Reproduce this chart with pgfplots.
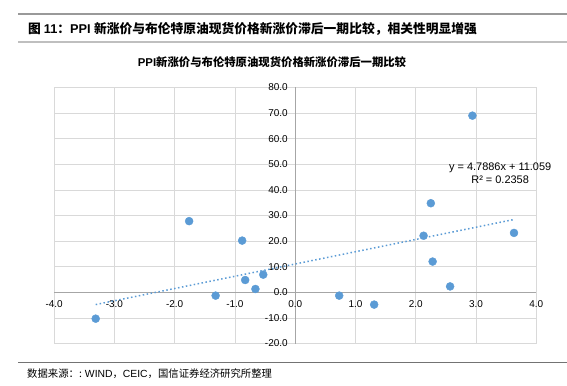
\documentclass[border=0pt]{standalone}
\usepackage{pgfplots}
\pgfplotsset{compat=1.18}
\usepackage{fontspec}
\setmainfont{Liberation Sans}
\newfontfamily\cjk{Noto Sans CJK SC}
\definecolor{ptblue}{HTML}{5B9BD5}
\begin{document}
\begin{tikzpicture}[x=1bp,y=1bp]
\path[use as bounding box] (0,0) rectangle (567,385);
\draw[black!40, line width=1.5bp] (18,371) -- (567,371);
\node[anchor=west, inner sep=0] at (28,356) {\fontsize{12.8}{14}\selectfont\bfseries{\cjk 图 }11{\cjk ：}PPI {\cjk 新涨价与布伦特原油现货价格新涨价滞后一期比较，相关性明显增强}};
\draw[black!25, line width=1.5bp] (18,343) -- (567,343);
\node[inner sep=0] at (272,323) {\fontsize{11.4}{13}\selectfont\bfseries PPI{\cjk 新涨价与布伦特原油现货价格新涨价滞后一期比较}};
\begin{axis}[
  at={(54.1bp,41.5bp)}, anchor=south west,
  scale only axis, width=482.2bp, height=256bp,
  xmin=-4, xmax=4, ymin=-20, ymax=80,
  xtick={-4,-3,...,4}, ytick={-20,-10,...,80},
  axis lines=middle,
  axis line style={-, draw=black!35, line width=0.8bp},
  grid=major,
  grid style={draw=black!15, line width=0.8bp},
  major tick length=0pt,
  hide obscured x ticks=false, hide obscured y ticks=false,
  ticklabel style={font=\fontsize{10}{11}\selectfont},
  xticklabel style={yshift=-4.5bp},
  yticklabel style={xshift=-4bp},
  /pgf/number format/.cd, fixed, fixed zerofill, precision=1, assume math mode=true,
  /pgfplots/.cd,
  clip=false,
]
\addplot[only marks, mark=*, mark size=4bp, mark options={draw=ptblue, fill=ptblue}] coordinates {
(-3.31,-10.3) (-1.76,27.8) (-0.88,20.2) (-0.83,4.8) (-0.53,6.9) (-0.66,1.3) (-1.32,-1.3)
(2.94,69.0) (2.25,34.8) (2.13,22.1) (3.63,23.2) (2.28,12.0) (2.57,2.3) (0.73,-1.3) (1.31,-4.8)
};
\addplot[ptblue, line width=1.5bp, dash pattern=on 1.5bp off 2.5bp] coordinates {(-3.31,-4.79) (3.63,28.44)};
\node[align=center, inner sep=0, font=\fontsize{11}{13}\selectfont] at (axis cs:3.4,46.6) {y = 4.7886x + 11.059\\R² = 0.2358};
\end{axis}
\draw[black!55, line width=1bp] (18,23) -- (567,23);
\node[anchor=west, inner sep=0] at (27,11) {\fontsize{10.4}{12}\selectfont{\cjk 数据来源：: }WIND{\cjk ，}CEIC{\cjk ，国信证券经济研究所整理}};
\end{tikzpicture}
\end{document}
